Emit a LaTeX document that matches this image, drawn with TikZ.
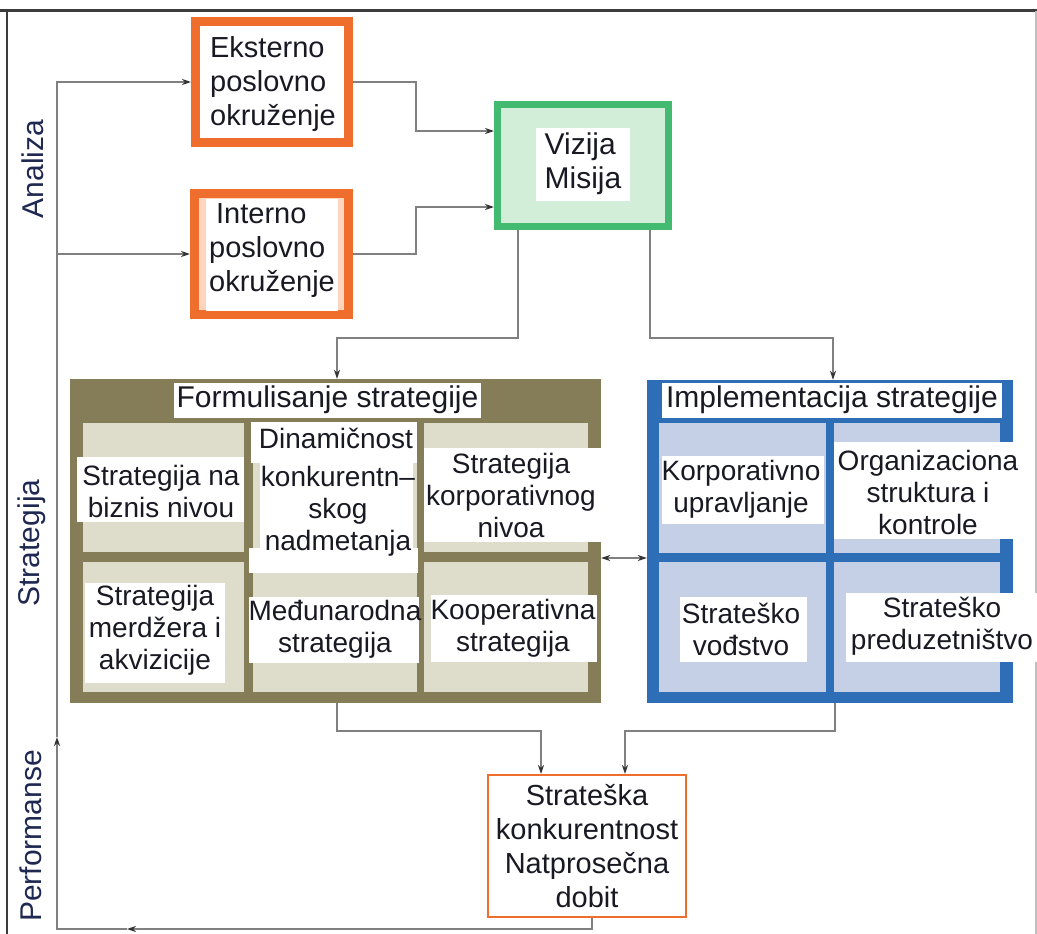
\documentclass[tikz,border=0pt]{standalone}
\usepackage{fontspec}
\setmainfont{Liberation Sans}
\usetikzlibrary{arrows.meta}
\definecolor{orng}{RGB}{240,110,45}
\definecolor{peach}{RGB}{252,214,190}
\definecolor{grn}{RGB}{66,187,112}
\definecolor{lgrn}{RGB}{210,237,216}
\definecolor{olivec}{RGB}{133,124,88}
\definecolor{beigec}{RGB}{222,220,202}
\definecolor{bluec}{RGB}{46,110,182}
\definecolor{lbluec}{RGB}{197,207,230}
\definecolor{txtc}{RGB}{25,25,35}
\definecolor{labc}{RGB}{30,40,80}
\definecolor{connc}{RGB}{128,128,128}
\definecolor{framec}{RGB}{60,60,60}
\begin{document}
\begin{tikzpicture}[x=1pt,y=-1pt,
  box/.style={rectangle, inner sep=0pt},
  t30/.style={font=\fontsize{30}{34}\selectfont, text=txtc, inner sep=0pt},
  t29/.style={font=\fontsize{29}{34}\selectfont, text=txtc, inner sep=0pt},
  t28/.style={font=\fontsize{28}{32}\selectfont, text=txtc, inner sep=0pt, align=center},
  sidelab/.style={font=\fontsize{30}{34}\selectfont, text=labc, rotate=90, inner sep=0pt},
  conn/.style={draw=connc, line width=1.5pt},
  tip/.style={-{Stealth[length=9pt,width=6pt,color=black!80]}},
  dtip/.style={{Stealth[length=9pt,width=6pt,color=black!80]}-{Stealth[length=9pt,width=6pt,color=black!80]}}
]
\useasboundingbox (0,0) rectangle (1037,934);
\fill[white] (0,0) rectangle (1037,934);
% outer frame
\draw[framec, line width=3pt] (0,11) -- (1037,11);
\draw[framec, line width=2pt] (7,11) -- (7,934);
\draw[black!25, line width=2pt] (1036,11) -- (1036,934);

% side labels
\node[sidelab] (lanal) at (33,169) {Analiza};
\node[sidelab] (lstrat) at (32,543) {Strategija};
\node[sidelab] (lperf) at (31,836) {Performanse};

% Eksterno
\node[box, draw=orng, line width=9pt, fill=white, minimum width=153pt, minimum height=121pt] (E) at (272,82) {};
\node[t29, align=left] (Et) at (273,84) {Eksterno\\poslovno\\okruženje};
% Interno
\node[box, draw=orng, line width=9pt, fill=peach, minimum width=154pt, minimum height=121pt] (I) at (271.5,254) {};
\fill[white] (206,199) rectangle (338,311);
\node[t29, align=left] (It) at (272,251) {\hspace*{7pt}Interno\\poslovno\\okruženje};
% Vizija
\node[box, draw=grn, line width=7pt, fill=lgrn, minimum width=171pt, minimum height=122pt] (V) at (583,165.5) {};
\fill[white] (536,128) rectangle (630,201);
\node[t30, align=left] (Vt) at (583,164) {Vizija\\Misija};

% Formulisanje
\node[box, fill=olivec, minimum width=531pt, minimum height=324pt] (F) at (335.5,541) {};
\foreach \xa/\xb in {83/244, 253/417, 424/588}
  \foreach \ya/\yb in {423/552, 562/692}
    \fill[beigec] (\xa,\ya) rectangle (\xb,\yb);
\fill[white] (174,383) rectangle (481,418);
\node[t30] (Ft) at (327.5,400) {Formulisanje strategije};
\fill[white] (77,457) rectangle (244,522);
\node[t28] (f11) at (161,491) {Strategija na\\biznis nivou};
\fill[white] (251,422) rectangle (417,463);
\fill[white] (260,463) rectangle (413,548);
\fill[white] (249,548) rectangle (418,573);
\node[t28] (f12a) at (336,438) {Dinamičnost};
\node[t28] (f12b) at (338,511) {konkurentn–\\skog\\nadmetanja};
\fill[white] (424,448) rectangle (601,542);
\node[t28] (f13) at (511,495) {Strategija\\korporativnog\\nivoa};
\fill[white] (85,583) rectangle (225,683);
\node[t28] (f21) at (155,630.5) {Strategija\\merdžera i\\akvizicije};
\fill[white] (249,597) rectangle (419,663);
\node[t28] (f22) at (335,629) {Međunarodna\\strategija};
\fill[white] (431,595) rectangle (597,662);
\node[t28] (f23) at (513,628.5) {Kooperativna\\strategija};

% Implementacija
\node[box, fill=bluec, minimum width=366pt, minimum height=323pt] (Im) at (830,541.5) {};
\foreach \xa/\xb in {659/826, 834/1000}
  \foreach \ya/\yb in {423/553, 562/692}
    \fill[lbluec] (\xa,\ya) rectangle (\xb,\yb);
\fill[white] (662,383) rectangle (1002,418);
\node[t30] (Imt) at (832,400) {Implementacija strategije};
\fill[white] (662,456) rectangle (824,524);
\node[t28] (i11) at (741,489) {Korporativno\\upravljanje};
\fill[white] (834,442) rectangle (1019,539);
\node[t28] (i12) at (928,492.5) {Organizaciona\\struktura i\\kontrole};
\fill[white] (680,597) rectangle (807,662);
\node[t28] (i21) at (741,629) {Strateško\\vođstvo};
\fill[white] (846,593) rectangle (1037,662);
\node[t28] (i22) at (942,626.5) {Strateško\\preduzetništvo};

% Strateska konkurentnost
\node[box, draw=orng, line width=2pt, fill=white, minimum width=198pt, minimum height=142pt,
      font=\fontsize{29}{34}\selectfont, text=txtc, align=center] (S) at (587,846)
      {Strateška\\konkurentnost\\Natprosečna\\dobit};

% feedback coordinates
\coordinate (fbx) at (592,0);
\coordinate (fbArrL) at (127,929);
\coordinate (fbBL) at (57,929);
\coordinate (fbArrU) at (57,737);
\coordinate (fbTop) at (57,82);
\coordinate (fbMid) at (57,254);

% connectors
\draw[conn, tip] (S.south -| fbx) |- (fbArrL);
\draw[conn, tip] (fbArrL) -- (fbBL) -- (fbArrU);
\draw[conn, tip] (fbArrU) -- (fbTop) -- (E.west);
\draw[conn, tip] (fbMid) -- (I.west);
\draw[conn, tip] (E.east) -- (416,82) |- (V.west |- 0,131);
\draw[conn, tip] (I.east) -- (416,254) |- (V.west |- 0,207);
\draw[conn, tip] (V.south -| 518,0) -- (518,338) -| (F.north -| 337,0);
\draw[conn, tip] (V.south -| 650,0) -- (650,338) -| (Im.north -| 833,0);
\draw[conn, tip] (F.south -| 337,0) -- (337,731) -| (S.north -| 541,0);
\draw[conn, tip] (Im.south -| 835,0) -- (835,731) -| (S.north -| 625,0);
\draw[conn, dtip] (F.east |- 0,558) -- (Im.west |- 0,558);
\end{tikzpicture}
\end{document}
